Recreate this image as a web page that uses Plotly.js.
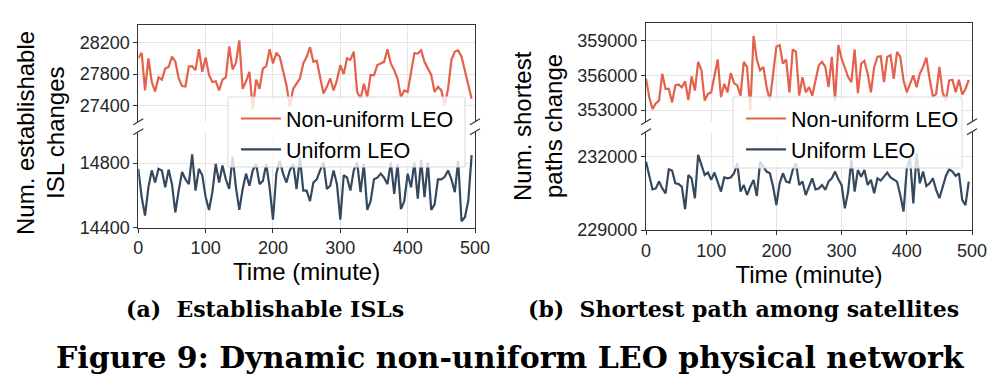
<!DOCTYPE html>
<html>
<head>
<meta charset="utf-8">
<script src="https://cdn.plot.ly/plotly-3.0.1.min.js"></script>
<style>
html,body{margin:0;padding:0;background:#ffffff;}
#chart{width:1000px;height:392px;}
</style>
</head>
<body>
<div id="chart"></div>
<script>
// ---------------- data ----------------
const minutes = [0,5,10,15,20,25,30,35,40,45,50,55,60,65,70,75,80,85,90,95,
  100,105,110,115,120,125,130,135,140,145,150,155,160,165,170,175,180,185,190,195,
  200,205,210,215,220,225,230,235,240,245,250,255,260,265,270,275,280,285,290,295,
  300,305,310,315,320,325,330,335,340,345,350,355,360,365,370,375,380,385,390,395,
  400,405,410,415,420,425,430,435,440,445,450,455,460,465,470,475,480,485,490,495];

const seriesNames = ['Non-uniform LEO', 'Uniform LEO'];

// (a) Establishable ISL changes
const islNonUniform = [28000,28070,27595,28000,27700,27580,27760,27730,27870,27890,
  28020,27960,27745,27650,27645,27895,27900,27850,28115,27830,
  28010,27790,27700,27710,27595,27730,27760,28150,27860,27945,
  28225,27615,27710,27830,27360,27730,27615,27870,27900,28115,
  27935,28070,28020,27850,27660,27390,27615,27680,27745,27935,
  28020,28140,27955,27970,27775,27555,27640,27745,27595,27725,
  27915,27800,28000,27980,28085,27575,27490,27680,27510,27790,
  27785,27915,27935,27955,28115,27935,27850,27745,27510,27595,
  27575,27850,28065,28060,28100,27955,27870,27790,27575,27640,
  27595,27405,27615,27980,28085,28100,28020,27850,27680,27490];

const islUniform = [14765,14590,14475,14650,14755,14680,14765,14755,14650,14760,
  14670,14495,14630,14745,14700,14670,14855,14630,14765,14725,
  14590,14510,14620,14795,14680,14785,14700,14640,14840,14650,
  14510,14640,14735,14660,14755,14795,14670,14690,14795,14650,
  14450,14735,14815,14735,14680,14755,14795,14640,14835,14630,
  14630,14565,14680,14700,14755,14805,14640,14660,14755,14670,
  14450,14725,14710,14630,14755,14805,14620,14795,14510,14565,
  14700,14710,14735,14710,14670,14805,14610,14795,14515,14565,
  14735,14650,14805,14580,14820,14590,14805,14510,14545,14700,
  14700,14715,14755,14700,14620,14815,14440,14465,14565,14850];

// (b) Shortest path changes
const pathNonUniform = [355710,354110,353090,353580,353820,356150,354830,354830,353670,355130,
  355210,354980,355480,353870,355910,354690,357170,356440,353820,354400,
  354540,356000,357370,354110,355270,354540,356200,355330,355130,354250,
  357170,356730,353000,359410,357370,356440,356730,354980,353820,356150,
  358480,358620,357020,357370,354540,358240,358040,354250,355850,354540,
  354980,354250,355560,356870,357170,356730,354980,357600,353820,358620,
  357460,356580,355850,355420,358240,354460,357020,357250,356150,354540,
  356730,357600,357660,355420,357600,357750,355710,358040,357600,355560,
  354540,355270,356000,354980,356150,356730,357540,355710,354160,354400,
  356730,354540,353820,355560,355620,354540,355620,354340,354830,355620];

const pathUniform = [231795,231180,230660,230700,230980,230700,230500,231480,231430,230910,
  230880,230770,229850,231250,231110,230300,232070,231660,231250,231350,
  231050,231350,230910,230570,231150,231110,231150,231320,231730,230570,
  230840,230430,230770,231050,230390,231800,231590,231390,231320,230770,
  230020,230910,231320,230980,230940,231450,231730,230840,230980,230430,
  230770,231110,230660,230700,230840,230640,230980,231110,231390,231070,
  230840,229890,230570,231890,230570,231450,231180,231450,230840,231050,
  230500,231110,231020,231180,231350,231150,231070,230980,230430,229750,
  231520,231930,230090,232140,230910,231390,230800,230910,231110,230640,
  230300,230770,231210,231480,231390,231210,231320,230230,230020,230980];

const xTicks = [0,100,200,300,400,500];
const islTopTicks = [27400,27800,28200];
const islBottomTicks = [14400,14800];
const pathTopTicks = [353000,356000,359000];
const pathBottomTicks = [229000,232000];

const xTitle = 'Time (minute)';
const islYTitle = ['Num. establishable', 'ISL changes'];
const pathYTitle = ['Num. shortest', 'paths change'];
const captionA = '(a)&nbsp; Establishable ISLs';
const captionB = '(b)&nbsp; Shortest path among satellites';
const figCaption = 'Figure 9: Dynamic non-uniform LEO physical network';

// ---------------- layout helpers ----------------
const W = 1000, H = 392;
const fx = v => v / W;
const fy = v => 1 - v / H;
const RED = '#e4614b', BLUE = '#34495e';
const AXC = '#333333', GRID = '#e5e5e5';
const SANS = 'Liberation Sans, Arial, sans-serif';
const SERIF = 'DejaVu Serif, serif';

const LX = [138.3, 475.0], RX = [646.0, 972.0];
const LT = [25.0, 121.7], LB = [131.7, 227.7];
const RT = [23.3, 121.7], RB = [131.7, 230.0];

function xdom(a){ return [fx(a[0]), fx(a[1])]; }
function ydom(a){ return [fy(a[1]), fy(a[0])]; }

const tickFont = {family: SANS, size: 18, color: '#262626'};

function xAxisBottom(dom, anchor){
  return {domain: xdom(dom), anchor: anchor, range: [0,500], tickvals: xTicks,
    ticks: 'outside', ticklen: 4, tickwidth: 1, tickcolor: AXC,
    showline: true, linecolor: AXC, linewidth: 1, mirror: false,
    showgrid: true, gridcolor: GRID, gridwidth: 1, zeroline: false,
    tickfont: tickFont,
    title: {text: xTitle, font: {family: SANS, size: 24, color: '#000'}, standoff: 4}};
}
function xAxisTop(dom, anchor, match){
  return {domain: xdom(dom), anchor: anchor, matches: match, range: [0,500], tickvals: xTicks,
    side: 'top', ticks: '', showticklabels: false,
    showline: true, linecolor: AXC, linewidth: 1,
    showgrid: true, gridcolor: GRID, gridwidth: 1, zeroline: false};
}
function yAxis(dom, anchor, range, ticks){
  return {domain: ydom(dom), anchor: anchor, range: range, tickvals: ticks, tickformat: 'd',
    ticks: 'outside', ticklen: 4, tickwidth: 1, tickcolor: AXC,
    showline: true, linecolor: AXC, linewidth: 1, mirror: true,
    showgrid: true, gridcolor: GRID, gridwidth: 1, zeroline: false,
    tickfont: tickFont};
}

const traces = [
  {x: minutes, y: islNonUniform, xaxis: 'x2', yaxis: 'y2', type: 'scatter', mode: 'lines',
   name: seriesNames[0], line: {color: RED, width: 2.2}, legend: 'legend'},
  {x: minutes, y: islUniform, xaxis: 'x', yaxis: 'y', type: 'scatter', mode: 'lines',
   name: seriesNames[1], line: {color: BLUE, width: 2.2}, legend: 'legend'},
  {x: minutes, y: pathNonUniform, xaxis: 'x4', yaxis: 'y4', type: 'scatter', mode: 'lines',
   name: seriesNames[0], line: {color: RED, width: 2.2}, legend: 'legend2'},
  {x: minutes, y: pathUniform, xaxis: 'x3', yaxis: 'y3', type: 'scatter', mode: 'lines',
   name: seriesNames[1], line: {color: BLUE, width: 2.2}, legend: 'legend2'}
];

// decorations: legend frames and axis-break marks
const shapes = [];
function frame(x0, x1, y0, y1){
  shapes.push({type: 'rect', xref: 'paper', yref: 'paper', layer: 'above',
    x0: fx(x0), x1: fx(x1), y0: fy(y1), y1: fy(y0),
    fillcolor: 'rgba(255,255,255,0.8)', line: {color: '#d9d9d9', width: 1}});
}
function brk(xp, yp){
  shapes.push({type: 'line', xref: 'paper', yref: 'paper', layer: 'above',
    x0: fx(xp - 5), x1: fx(xp + 5), y0: fy(yp + 3), y1: fy(yp - 3),
    line: {color: AXC, width: 1.2}});
}
frame(228, 465, 97, 167);
frame(733, 962, 97, 168);
[[LX, LT, LB], [RX, RT, RB]].forEach(([xs, t, b]) => {
  xs.forEach(xp => { brk(xp, t[1]); brk(xp, b[0]); });
});

const legendCommon = {orientation: 'v', bgcolor: 'rgba(0,0,0,0)', borderwidth: 0,
  font: {family: SANS, size: 21.5, color: '#000'}, itemwidth: 40, traceorder: 'normal',
  xanchor: 'left', yanchor: 'top', tracegroupgap: 0};

function yTitle(text, xc, yc){
  return {text: text, xref: 'paper', yref: 'paper', x: fx(xc), y: fy(yc), textangle: -90,
    showarrow: false, xanchor: 'center', yanchor: 'middle',
    font: {family: SANS, size: 24, color: '#000'}};
}
function caption(text, xc, yc, size){
  return {text: text, xref: 'paper', yref: 'paper', x: fx(xc), y: fy(yc),
    showarrow: false, xanchor: 'center', yanchor: 'middle',
    font: {family: SERIF, size: size, color: '#000', weight: 'bold'}};
}

const layout = {
  width: W, height: H,
  margin: {l: 0, r: 0, t: 0, b: 0, pad: 0},
  paper_bgcolor: '#ffffff', plot_bgcolor: '#ffffff',
  showlegend: true,
  xaxis: xAxisBottom(LX, 'y'),
  xaxis2: xAxisTop(LX, 'y2', 'x'),
  yaxis: yAxis(LB, 'x', [14400, 14995], islBottomTicks),
  yaxis2: yAxis(LT, 'x2', [27200, 28420], islTopTicks),
  xaxis3: xAxisBottom(RX, 'y3'),
  xaxis4: xAxisTop(RX, 'y4', 'x3'),
  yaxis3: yAxis(RB, 'x3', [229000, 233020], pathBottomTicks),
  yaxis4: yAxis(RT, 'x4', [352000, 360500], pathTopTicks),
  legend: Object.assign({}, legendCommon, {x: fx(236), y: fy(98)}),
  legend2: Object.assign({}, legendCommon, {x: fx(741), y: fy(98)}),
  shapes: shapes,
  annotations: [
    yTitle(islYTitle[0], 25, 133),
    yTitle(islYTitle[1], 55, 133),
    yTitle(pathYTitle[0], 523, 126),
    yTitle(pathYTitle[1], 554, 126),
    caption(captionA, 264.5, 309, 22),
    caption(captionB, 743.5, 309, 22),
    caption(figCaption, 510, 357, 30)
  ]
};

Plotly.newPlot('chart', traces, layout, {staticPlot: true, displayModeBar: false});
</script>
</body>
</html>
